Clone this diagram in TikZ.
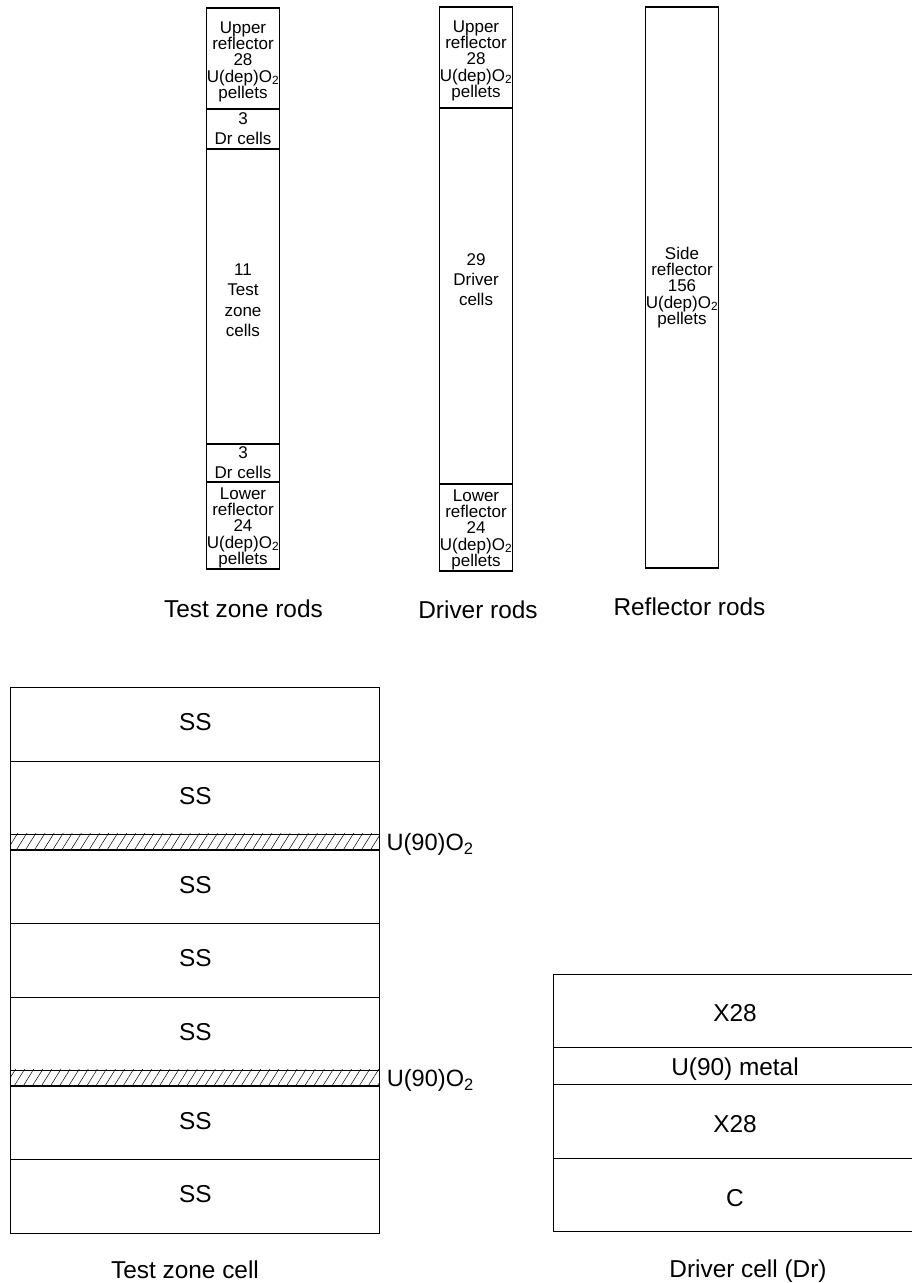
\documentclass[tikz,border=0pt]{standalone}
\usepackage{fontspec}
\setmainfont{Liberation Sans}
\usepackage{tikz}
\usetikzlibrary{positioning, patterns.meta}

\begin{document}
\begin{tikzpicture}[
    x=1pt, y=-1pt,
    rod/.style={draw, line width=1.8pt, minimum width=73pt, minimum height=#1, inner sep=0pt, font=\fontsize{17}{16.2}\selectfont, align=center},
    rodwide/.style={rod=#1, font=\fontsize{17}{20.3}\selectfont},
    cell/.style={draw, line width=0.9pt, minimum width=369pt, minimum height=#1, inner sep=0pt, font=\fontsize{24.4}{28}\selectfont},
    drcell/.style={cell=#1, minimum width=364pt},
    hatched/.style={draw, line width=0.9pt, minimum width=369pt, minimum height=15.5pt, inner sep=0pt, pattern={Lines[angle=58, distance=7.7pt, line width=0.5pt]}},
    caption/.style={font=\fontsize{24.4}{28}\selectfont},
    fuel/.style={font=\fontsize{23.6}{28}\selectfont, yshift=-3pt}
]
\useasboundingbox (0, 0) rectangle (911, 1283);

% Test zone rod (top to bottom)
\node[rod=101pt, text height=83pt] (tup) at (243, 58.5) {Upper\\reflector\\28\\U(dep)O\textsubscript{2}\\pellets};
\node[rodwide=40pt] (tdr1) at (243, 128.5) {3\\Dr cells};
\node[rodwide=295pt, text height=80pt] (ttest) at (243, 296.5) {11\\Test\\zone\\cells};
\node[rodwide=38pt] (tdr2) at (243, 462.5) {3\\Dr cells};
\node[rod=87pt, text height=81pt] (tlow) at (243, 525.5) {Lower\\reflector\\24\\U(dep)O\textsubscript{2}\\pellets};

% Driver rod
\node[rod=101pt, text height=83pt] (dup) at (476, 57.5) {Upper\\reflector\\28\\U(dep)O\textsubscript{2}\\pellets};
\node[rodwide=376pt, text depth=33pt] (ddrv) at (476, 296) {29\\Driver\\cells};
\node[rod=87pt, text height=81pt] (dlow) at (476, 527.5) {Lower\\reflector\\24\\U(dep)O\textsubscript{2}\\pellets};

% Reflector rod
\node[rod=561pt] (rside) at (682, 287.5) {Side\\reflector\\156\\U(dep)O\textsubscript{2}\\pellets};

% Rod captions
\node[caption] (captest) at (243.5, 609) {Test zone rods};
\node[caption] (capdrv) at (478, 610) {Driver rods};
\node[caption] (capref) at (689.5, 607) {Reflector rods};

% Test zone cell
\foreach \name/\ymid/\high in {sa/724/74, sb/797.5/73, sc/886.5/73, sd/960/74, se/1033.5/73, sf/1122.5/73, sg/1196/74} {
    \node[cell=\high pt, text depth=4pt] (\name) at (195.3, \ymid) {SS};
}
\node[hatched] (fa) at (195.3, 841.7) {};
\node[hatched] (fb) at (195.3, 1077.7) {};
\node[fuel, right=3pt of fa] (ua) {U(90)O\textsubscript{2}};
\node[fuel, right=3pt of fb] (ub) {U(90)O\textsubscript{2}};
\node[caption] (captz) at (185, 1270) {Test zone cell};

% Driver cell
\node[drcell=73pt, text height=22pt, text depth=0pt] (xa) at (735, 1010.5) {X28};
\node[drcell=37pt, text height=26pt] (um) at (735, 1065.5) {U(90) metal};
\node[drcell=74pt, text height=22pt, text depth=0pt] (xb) at (735, 1121) {X28};
\node[drcell=73pt, text height=24pt, text depth=0pt] (cc) at (735, 1194.5) {C};
\node[caption] (capdr) at (748, 1271.5) {Driver cell (Dr)};

\end{tikzpicture}
\end{document}
